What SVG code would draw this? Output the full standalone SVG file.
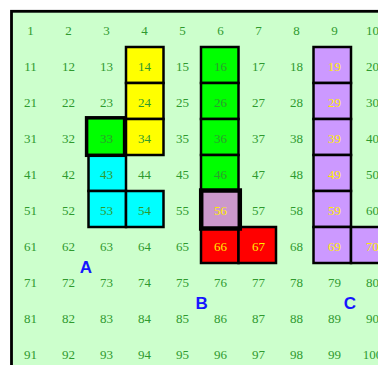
<svg xmlns="http://www.w3.org/2000/svg" width="378" height="365" viewBox="0 0 378 365">
<style>
.cell{stroke:#000;stroke-width:2.5}
.hl{stroke:#000}
.n{font-family:"Liberation Serif","Times New Roman",serif;font-size:13px;text-anchor:middle;fill:#2f9a2f}
.y{fill:#ffee00}
.lbl{font-family:"Liberation Sans",Arial,sans-serif;font-weight:bold;font-size:17px;text-anchor:middle;fill:#1515ff}
</style>
<rect x="0" y="0" width="378" height="365" fill="#fff"/>
<rect x="11.5" y="11.3" width="400" height="400" fill="#ccffcc"/>
<g id="piece-yellow" fill="#ffff00">
<rect class="cell" x="126" y="47" width="37.5" height="36"/>
<rect class="cell" x="126" y="83" width="37.5" height="36"/>
<rect class="cell" x="126" y="119" width="37.5" height="36"/>
</g>
<g id="piece-cyan" fill="#00ffff">
<rect class="cell" x="88.5" y="155" width="37.5" height="36"/>
<rect class="cell" x="88.5" y="191" width="37.5" height="36"/>
<rect class="cell" x="126" y="191" width="37.5" height="36"/>
</g>
<g id="piece-green" fill="#00ff00">
<rect class="cell" x="201" y="47" width="37.5" height="36"/>
<rect class="cell" x="201" y="83" width="37.5" height="36"/>
<rect class="cell" x="201" y="119" width="37.5" height="36"/>
<rect class="cell" x="201" y="155" width="37.5" height="36"/>
</g>
<g id="piece-red" fill="#ff0000">
<rect class="cell" x="201" y="227" width="37.5" height="36"/>
<rect class="cell" x="238.5" y="227" width="37.5" height="36"/>
</g>
<g id="piece-purple" fill="#cc99ff">
<rect class="cell" x="313.5" y="47" width="37.5" height="36"/>
<rect class="cell" x="313.5" y="83" width="37.5" height="36"/>
<rect class="cell" x="313.5" y="119" width="37.5" height="36"/>
<rect class="cell" x="313.5" y="155" width="37.5" height="36"/>
<rect class="cell" x="313.5" y="191" width="37.5" height="36"/>
<rect class="cell" x="313.5" y="227" width="37.5" height="36"/>
<rect class="cell" x="351" y="227" width="37.5" height="36"/>
</g>
<g id="cell-33">
<rect class="hl" x="86.6" y="117.8" width="38" height="37.5" fill="#00ff00" stroke-width="3.5"/>
</g>
<g id="cell-56">
<rect class="hl" x="201.2" y="190.5" width="38.6" height="38" fill="#cc99cc" stroke-width="4.5"/>
</g>
<g id="numbers" class="n">
<text x="30.5" y="34.5">1</text><text x="68.5" y="34.5">2</text><text x="106.5" y="34.5">3</text><text x="144.5" y="34.5">4</text><text x="182.5" y="34.5">5</text><text x="220.5" y="34.5">6</text><text x="258.5" y="34.5">7</text><text x="296.5" y="34.5">8</text><text x="334.5" y="34.5">9</text><text x="372.5" y="34.5">10</text>
<text x="30.5" y="70.5">11</text><text x="68.5" y="70.5">12</text><text x="106.5" y="70.5">13</text><text x="144.5" y="70.5">14</text><text x="182.5" y="70.5">15</text><text x="220.5" y="70.5">16</text><text x="258.5" y="70.5">17</text><text x="296.5" y="70.5">18</text><text class="y" x="334.5" y="70.5">19</text><text x="372.5" y="70.5">20</text>
<text x="30.5" y="106.5">21</text><text x="68.5" y="106.5">22</text><text x="106.5" y="106.5">23</text><text x="144.5" y="106.5">24</text><text x="182.5" y="106.5">25</text><text x="220.5" y="106.5">26</text><text x="258.5" y="106.5">27</text><text x="296.5" y="106.5">28</text><text class="y" x="334.5" y="106.5">29</text><text x="372.5" y="106.5">30</text>
<text x="30.5" y="142.5">31</text><text x="68.5" y="142.5">32</text><text x="106.5" y="142.5">33</text><text x="144.5" y="142.5">34</text><text x="182.5" y="142.5">35</text><text x="220.5" y="142.5">36</text><text x="258.5" y="142.5">37</text><text x="296.5" y="142.5">38</text><text class="y" x="334.5" y="142.5">39</text><text x="372.5" y="142.5">40</text>
<text x="30.5" y="178.5">41</text><text x="68.5" y="178.5">42</text><text x="106.5" y="178.5">43</text><text x="144.5" y="178.5">44</text><text x="182.5" y="178.5">45</text><text x="220.5" y="178.5">46</text><text x="258.5" y="178.5">47</text><text x="296.5" y="178.5">48</text><text class="y" x="334.5" y="178.5">49</text><text x="372.5" y="178.5">50</text>
<text x="30.5" y="214.5">51</text><text x="68.5" y="214.5">52</text><text x="106.5" y="214.5">53</text><text x="144.5" y="214.5">54</text><text x="182.5" y="214.5">55</text><text class="y" x="220.5" y="214.5">56</text><text x="258.5" y="214.5">57</text><text x="296.5" y="214.5">58</text><text class="y" x="334.5" y="214.5">59</text><text x="372.5" y="214.5">60</text>
<text x="30.5" y="250.5">61</text><text x="68.5" y="250.5">62</text><text x="106.5" y="250.5">63</text><text x="144.5" y="250.5">64</text><text x="182.5" y="250.5">65</text><text class="y" x="220.5" y="250.5">66</text><text class="y" x="258.5" y="250.5">67</text><text x="296.5" y="250.5">68</text><text class="y" x="334.5" y="250.5">69</text><text class="y" x="372.5" y="250.5">70</text>
<text x="30.5" y="286.5">71</text><text x="68.5" y="286.5">72</text><text x="106.5" y="286.5">73</text><text x="144.5" y="286.5">74</text><text x="182.5" y="286.5">75</text><text x="220.5" y="286.5">76</text><text x="258.5" y="286.5">77</text><text x="296.5" y="286.5">78</text><text x="334.5" y="286.5">79</text><text x="372.5" y="286.5">80</text>
<text x="30.5" y="322.5">81</text><text x="68.5" y="322.5">82</text><text x="106.5" y="322.5">83</text><text x="144.5" y="322.5">84</text><text x="182.5" y="322.5">85</text><text x="220.5" y="322.5">86</text><text x="258.5" y="322.5">87</text><text x="296.5" y="322.5">88</text><text x="334.5" y="322.5">89</text><text x="372.5" y="322.5">90</text>
<text x="30.5" y="358.5">91</text><text x="68.5" y="358.5">92</text><text x="106.5" y="358.5">93</text><text x="144.5" y="358.5">94</text><text x="182.5" y="358.5">95</text><text x="220.5" y="358.5">96</text><text x="258.5" y="358.5">97</text><text x="296.5" y="358.5">98</text><text x="334.5" y="358.5">99</text><text x="372.5" y="358.5">100</text>
</g>
<g id="labels" class="lbl">
<text x="86" y="273">A</text>
<text x="201.7" y="309">B</text>
<text x="349.8" y="309">C</text>
</g>
<rect id="frame" x="11.5" y="11.3" width="400" height="400" fill="none" stroke="#000" stroke-width="2.8"/>
</svg>
